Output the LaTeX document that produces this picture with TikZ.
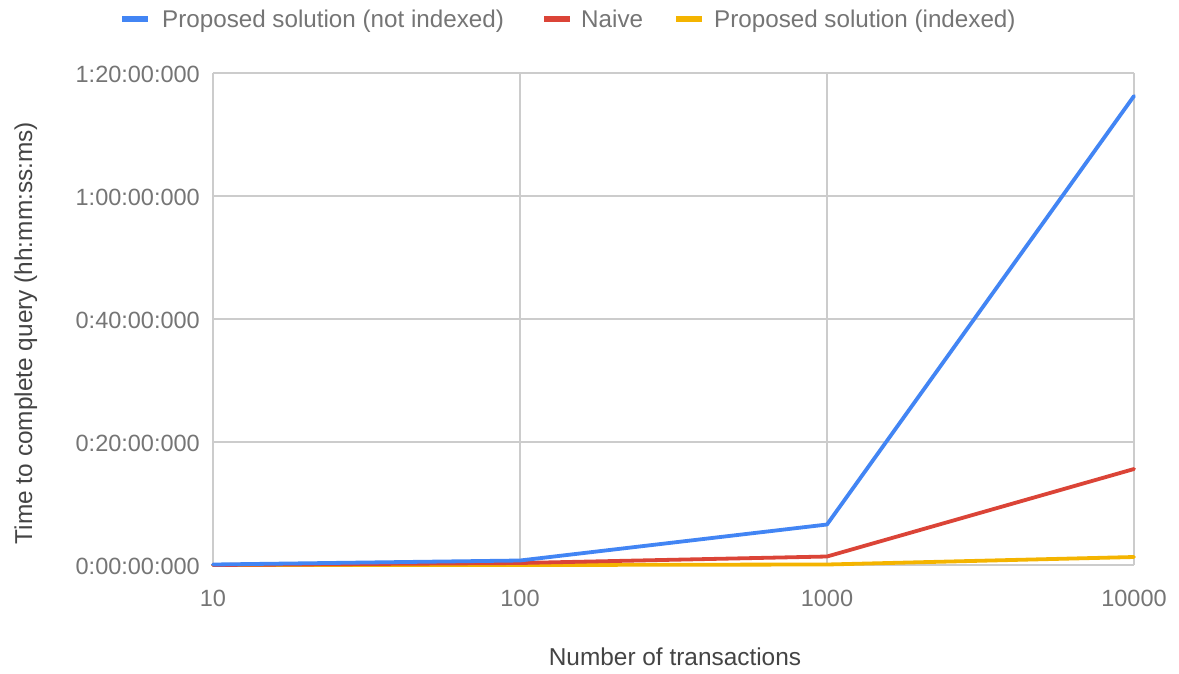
\documentclass[tikz,border=0pt]{standalone}
\usepackage{fontspec}
\setmainfont{Liberation Sans}
\definecolor{gridgray}{HTML}{CCCCCC}
\definecolor{ticktext}{HTML}{757575}
\definecolor{titletext}{HTML}{444444}
\definecolor{seriesblue}{HTML}{4285F4}
\definecolor{seriesred}{HTML}{DB4437}
\definecolor{seriesyellow}{HTML}{F4B400}
\tikzset{
  gridline/.style={draw=gridgray, line width=1.2pt},
  series/.style={line width=3.8pt, line join=round, line cap=round},
  ticklabel/.style={text=ticktext, font=\fontsize{23.5}{26}\selectfont, inner sep=0pt},
  legendtext/.style={text=ticktext, font=\fontsize{24.2}{27}\selectfont, inner sep=0pt, anchor=base west},
  axistitle/.style={text=titletext, font=\fontsize{24.4}{27}\selectfont, inner sep=0pt, anchor=base},
  legendkey/.style={minimum width=26pt, minimum height=6pt, inner sep=0pt}
}
\begin{document}
\begin{tikzpicture}[x=1pt, y=-1pt]
  \useasboundingbox[fill=white] (0,0) rectangle (1179,673);

  % grid
  \foreach \gy in {73,196,319,442,565}
    \draw[gridline] (213,\gy) -- (1134,\gy);
  \foreach \gx in {213,520,827,1134}
    \draw[gridline] (\gx,73) -- (\gx,565);

  % y tick labels
  \node[ticklabel, anchor=base east] (y0) at (200,574) {0:00:00:000};
  \node[ticklabel, anchor=base east] (y1) at (200,451) {0:20:00:000};
  \node[ticklabel, anchor=base east] (y2) at (200,328) {0:40:00:000};
  \node[ticklabel, anchor=base east] (y3) at (200,205) {1:00:00:000};
  \node[ticklabel, anchor=base east] (y4) at (200,82) {1:20:00:000};

  % x tick labels
  \node[ticklabel, anchor=base] (x0) at (213,606) {10};
  \node[ticklabel, anchor=base] (x1) at (520,606) {100};
  \node[ticklabel, anchor=base] (x2) at (827,606) {1000};
  \node[ticklabel, anchor=base] (x3) at (1134,606) {10000};

  % axis titles
  \node[axistitle] (xtitle) at (675,665) {Number of transactions};
  \node[axistitle, rotate=90] (ytitle) at (32,333) {Time to complete query (hh:mm:ss:ms)};

  % data series
  \draw[series, seriesyellow] (213,565) -- (520,565) -- (827,564.5) -- (1134,557);
  \draw[series, seriesred] (213,565) -- (520,563) -- (827,556.5) -- (1134,469);
  \draw[series, seriesblue] (213,564.5) -- (520,560.5) -- (827,524.5) -- (1134,96);

  % legend
  \node[legendkey, fill=seriesblue] (kblue) at (135,19) {};
  \node[legendtext] (lblue) at (162,27) {Proposed solution (not indexed)};
  \node[legendkey, fill=seriesred] (kred) at (557,19) {};
  \node[legendtext] (lred) at (581,27) {Naive};
  \node[legendkey, fill=seriesyellow] (kyellow) at (689,19) {};
  \node[legendtext] (lyellow) at (714,27) {Proposed solution (indexed)};
\end{tikzpicture}
\end{document}
